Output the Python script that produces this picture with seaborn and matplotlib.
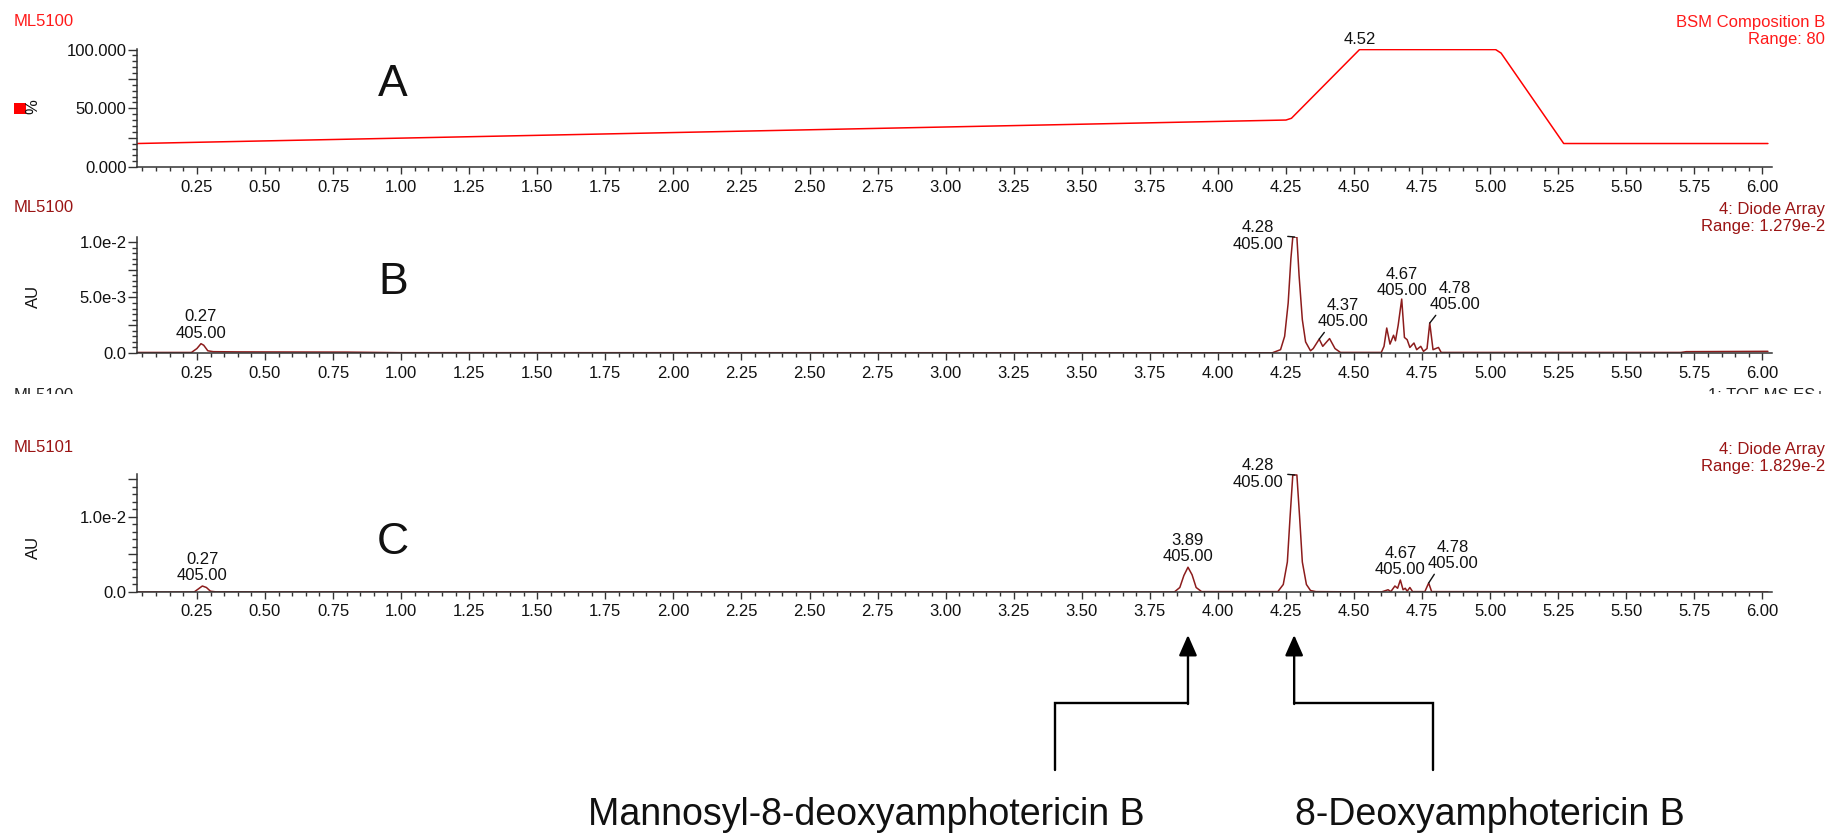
import matplotlib
matplotlib.use('Agg')
import numpy as np
import pandas as pd
import matplotlib.pyplot as plt
import seaborn as sns
from matplotlib.ticker import MultipleLocator, FixedLocator, FixedFormatter
from matplotlib.transforms import blended_transform_factory, Bbox, TransformedBbox
from matplotlib.patches import Rectangle

# panel A: gradient, % of composition B
a_time = [0.03, 4.25, 4.27, 4.52, 5.02, 5.04, 5.27, 6.02]
a_pct = [20.0, 40.0, 41.5, 100.0, 100.0, 97.0, 20.0, 20.0]

# panel B: ML5100 diode array trace (AU x 1e-3)
b_time = [0.03, 0.23, 0.25, 0.265, 0.275, 0.29, 0.31, 0.40, 0.80, 1.00,
          4.20, 4.23, 4.245, 4.258, 4.268, 4.275, 4.29, 4.298, 4.31, 4.322, 4.34,
          4.35, 4.372, 4.385, 4.41, 4.43, 4.45,
          4.60, 4.61, 4.62, 4.632, 4.645, 4.652, 4.662, 4.675, 4.685, 4.695, 4.705,
          4.72, 4.73, 4.745, 4.755, 4.768, 4.778, 4.79, 4.81, 4.82,
          5.70, 5.72, 6.02]
b_au = [0.05, 0.05, 0.4, 0.84, 0.7, 0.2, 0.12, 0.1, 0.08, 0.03,
        0.02, 0.3, 1.5, 4.5, 8.5, 10.45, 10.45, 7.0, 3.0, 1.0, 0.2,
        0.4, 1.25, 0.6, 1.3, 0.4, 0.05,
        0.05, 0.6, 2.25, 0.8, 1.6, 1.1, 2.5, 4.86, 1.4, 1.2, 0.5,
        0.9, 0.3, 0.6, 0.15, 0.4, 2.7, 0.3, 0.5, 0.05,
        0.05, 0.12, 0.15]

# panel C: ML5101 diode array trace (AU x 1e-3)
c_time = [0.03, 0.24, 0.255, 0.27, 0.285, 0.30, 0.32,
          3.84, 3.86, 3.875, 3.89, 3.905, 3.92, 3.94,
          4.22, 4.24, 4.255, 4.265, 4.275, 4.29, 4.30, 4.31, 4.325, 4.34, 4.36,
          4.60, 4.625, 4.635, 4.65, 4.66, 4.67, 4.68, 4.688, 4.695, 4.705, 4.715,
          4.76, 4.774, 4.785, 6.02]
c_au = [0.0, 0.0, 0.4, 0.8, 0.6, 0.1, 0.02,
        0.0, 0.6, 2.2, 3.3, 2.3, 0.6, 0.05,
        0.05, 1.0, 4.0, 10.0, 15.6, 15.6, 10.0, 4.0, 1.0, 0.2, 0.05,
        0.0, 0.3, 0.05, 0.8, 0.5, 1.6, 0.3, 0.5, 0.1, 0.6, 0.05,
        0.05, 1.2, 0.05, 0.0]

# peak labels
b_peak_time = [0.27, 4.28, 4.37, 4.67, 4.78]
b_peak_x = [0.265, 4.282, 4.372, 4.675, 4.778]
b_peak_au = [0.84, 10.45, 1.25, 4.86, 2.7]
c_peak_time = [0.27, 3.89, 4.28, 4.67, 4.78]
c_peak_x = [0.27, 3.89, 4.282, 4.67, 4.774]
c_peak_au = [0.8, 3.3, 15.6, 1.6, 1.2]
wavelength = '405.00'

compounds = ['Mannosyl-8-deoxyamphotericin B', '8-Deoxyamphotericin B']
compound_time = [3.89, 4.28]

W, H = 1829, 839
RED = '#ff1a1a'
DRED = '#9a1414'
LINE_DRED = '#8c1c1c'


def fx(px):
    return px / W


def fy(py):
    return 1 - py / H


def px2pt(p):
    return p * 72 / 100


def make_axes(fig, top, bottom):
    ax = fig.add_axes([fx(137), fy(bottom), fx(1772) - fx(137), (bottom - top) / H])
    ax.set_xlim(0.03, 6.035)
    sns.despine(ax=ax)
    for s in ['left', 'bottom']:
        ax.spines[s].set_color('#333333')
        ax.spines[s].set_linewidth(1.1)
    ax.xaxis.set_major_locator(MultipleLocator(0.25))
    ax.xaxis.set_minor_locator(MultipleLocator(0.05))
    ax.xaxis.set_major_formatter(matplotlib.ticker.FormatStrFormatter('%.2f'))
    ax.tick_params(axis='both', which='both', direction='out', color='#333333', width=1.0,
                   labelsize=12, labelcolor='#111111')
    ax.tick_params(axis='x', which='major', length=5, pad=4)
    ax.tick_params(axis='x', which='minor', length=3)
    ax.tick_params(axis='y', which='major', length=6.5, pad=1)
    ax.tick_params(axis='y', which='minor', length=3.5)
    ax.set_xlabel('')
    ax.set_ylabel('')
    ax.set_facecolor('white')
    ax.grid(False)
    return ax


def set_yticks(ax, ticks, labels, minor_step):
    ax.yaxis.set_major_locator(FixedLocator(ticks))
    ax.yaxis.set_major_formatter(FixedFormatter(labels))
    ax.yaxis.set_minor_locator(MultipleLocator(minor_step))


def peak_labels(ax, names, xs, vals, offsets):
    for name, x, v, (dx, dy, kind) in zip(names, xs, vals, offsets):
        txt = f'{name:.2f}\n{wavelength}'
        if kind == 'side':
            ax.annotate(txt, xy=(x, v), xytext=(px2pt(dx), px2pt(dy)), textcoords='offset points',
                        ha='center', va='center', fontsize=12, linespacing=1.1, color='#111111',
                        arrowprops=dict(arrowstyle='-', color='#111111', lw=1.0,
                                        shrinkA=1, shrinkB=0, relpos=(1.0, 0.5)))
        elif kind == 'lead':
            ax.annotate(txt, xy=(x, v), xytext=(px2pt(dx), px2pt(dy)), textcoords='offset points',
                        ha='center', va='bottom', fontsize=12, linespacing=1.1, color='#111111',
                        arrowprops=dict(arrowstyle='-', color='#111111', lw=1.0,
                                        shrinkA=0, shrinkB=0, relpos=(0.2, 0.05)))
        else:
            ax.annotate(txt, xy=(x, v), xytext=(px2pt(dx), px2pt(dy)), textcoords='offset points',
                        ha='center', va='bottom', fontsize=12, linespacing=1.1, color='#111111')


sns.set_theme(style='ticks')
plt.rcParams['font.family'] = ['Liberation Sans', 'DejaVu Sans']

fig = plt.figure(figsize=(W / 100, H / 100), dpi=100)
fig.patch.set_facecolor('white')

# ---- panel A
ax_a = make_axes(fig, 49, 167)
df_a = pd.DataFrame({'time': a_time, 'pct': a_pct})
sns.lineplot(data=df_a, x='time', y='pct', ax=ax_a, color='#ff0000', linewidth=1.1, estimator=None)
ax_a.set_ylim(0, 100.5)
set_yticks(ax_a, [0, 25, 50, 75, 100], ['0.000', '', '50.000', '', '100.000'], 5)
ax_a.set_xlabel('')
ax_a.set_ylabel('')
ax_a.annotate('4.52', xy=(4.52, 100), xytext=(0, 2), textcoords='offset points',
              ha='center', va='bottom', fontsize=12, color='#111111')

# ---- panel B
ax_b = make_axes(fig, 237, 353)
df_b = pd.DataFrame({'time': b_time, 'au': np.array(b_au) * 1e-3})
sns.lineplot(data=df_b, x='time', y='au', ax=ax_b, color=LINE_DRED, linewidth=1.1, estimator=None)
ax_b.set_ylim(0, 10.45e-3)
set_yticks(ax_b, [0, 2.5e-3, 5e-3, 7.5e-3, 1e-2], ['0.0', '', '5.0e-3', '', '1.0e-2'], 0.5e-3)
ax_b.set_xlabel('')
ax_b.set_ylabel('')
peak_labels(ax_b, b_peak_time, b_peak_x, np.array(b_peak_au) * 1e-3,
            [(0, 3, 'top'), (-37, 1, 'side'), (24, 10, 'lead'), (0, 1, 'top'), (25, 11, 'lead')])

# ---- panel C
ax_c = make_axes(fig, 474, 592)
df_c = pd.DataFrame({'time': c_time, 'au': np.array(c_au) * 1e-3})
sns.lineplot(data=df_c, x='time', y='au', ax=ax_c, color=LINE_DRED, linewidth=1.1, estimator=None)
ax_c.set_ylim(0, 15.73e-3)
set_yticks(ax_c, [0, 5e-3, 1e-2, 1.5e-2], ['0.0', '', '1.0e-2', ''], 1e-3)
ax_c.set_xlabel('')
ax_c.set_ylabel('')
peak_labels(ax_c, c_peak_time, c_peak_x, np.array(c_peak_au) * 1e-3,
            [(0, 3, 'top'), (0, 3, 'top'), (-37, 1, 'side'), (0, 3, 'top'), (24, 12, 'lead')])

# ---- header texts
fig.text(fx(14), fy(22), 'ML5100', color=RED, fontsize=12, ha='left', va='center')
fig.text(fx(1825), fy(31), 'BSM Composition B\nRange: 80', color=RED, fontsize=12,
         ha='right', va='center', linespacing=1.15, multialignment='right')
fig.text(fx(14), fy(208), 'ML5100', color=DRED, fontsize=12, ha='left', va='center')
fig.text(fx(1825), fy(218), '4: Diode Array\nRange: 1.279e-2', color=DRED, fontsize=12,
         ha='right', va='center', linespacing=1.15, multialignment='right')
fig.text(fx(14), fy(448), 'ML5101', color=DRED, fontsize=12, ha='left', va='center')
fig.text(fx(1825), fy(458), '4: Diode Array\nRange: 1.829e-2', color=DRED, fontsize=12,
         ha='right', va='center', linespacing=1.15, multialignment='right')

# partly hidden header of the next trace
clip = TransformedBbox(Bbox([[0, fy(393.5)], [1, 1]]), fig.transFigure)
for x, s, ha in [(fx(14), 'ML5100', 'left'), (fx(1825), '1: TOF MS ES+', 'right')]:
    t = fig.text(x, fy(388), s, color='#222222', fontsize=12, ha=ha, va='top')
    t.set_clip_box(clip)
    t.set_clip_on(True)

# y axis labels
fig.patches.append(Rectangle((fx(14), fy(114)), fx(12), 11 / H, transform=fig.transFigure,
                             facecolor='#ff0000', edgecolor='none'))
fig.text(fx(33), fy(107), '%', rotation=90, fontsize=12, ha='center', va='center', color='#111111')
fig.text(fx(33), fy(296), 'AU', rotation=90, fontsize=12, ha='center', va='center', color='#111111')
fig.text(fx(33), fy(547), 'AU', rotation=90, fontsize=12, ha='center', va='center', color='#111111')

# panel letters
for y, s in [(84, 'A'), (282, 'B'), (543, 'C')]:
    fig.text(fx(393), fy(y), s, fontsize=32, ha='center', va='center', color='#111111')

# bottom arrows pointing to the two compounds
blend = blended_transform_factory(ax_c.transData, fig.transFigure)
bracket_end = [3.40, 4.79]
for t0, t1 in zip(compound_time, bracket_end):
    ax_c.plot([t0, t1, t1], [fy(703), fy(703), fy(770)], transform=blend, clip_on=False,
              color='black', linewidth=1.7, solid_joinstyle='miter')
    ax_c.annotate('', xy=(t0, fy(635)), xycoords=blend, xytext=(t0, fy(704)), textcoords=blend,
                  arrowprops=dict(arrowstyle='-|>,head_width=0.55,head_length=1.25', mutation_scale=10,
                                  color='black', lw=1.7, shrinkA=0, shrinkB=0))

fig.text(fx(866), fy(815), compounds[0], fontsize=27, ha='center', va='center', color='#111111')
fig.text(fx(1490), fy(815), compounds[1], fontsize=27, ha='center', va='center', color='#111111')

fig.savefig('out.png', dpi=100, facecolor='white')
